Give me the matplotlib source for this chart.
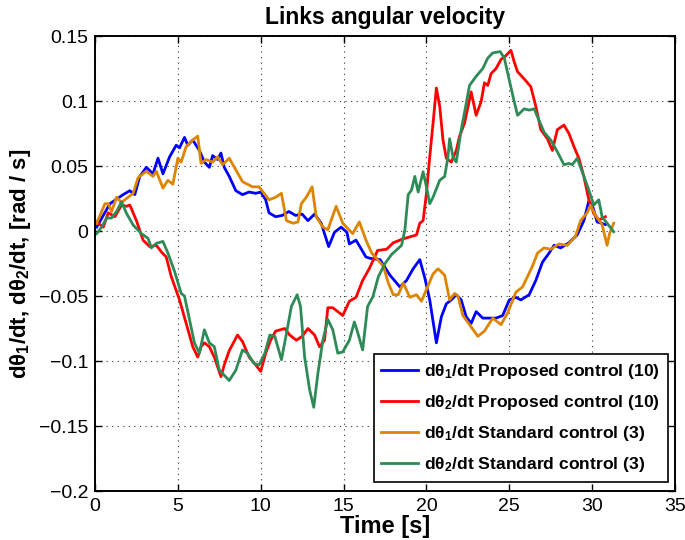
import matplotlib
matplotlib.use('Agg')
import matplotlib.pyplot as plt

plt.rcParams['font.family'] = ['Liberation Sans', 'DejaVu Sans']
plt.rcParams['mathtext.fontset'] = 'custom'
plt.rcParams['mathtext.bf'] = 'Liberation Sans:bold'
plt.rcParams['mathtext.rm'] = 'Liberation Sans:bold'
plt.rcParams['mathtext.default'] = 'bf'

# dtheta1/dt, proposed control (10)
blue_t = [0.1, 0.9, 1.7, 2.1, 2.4, 2.7, 3.1, 3.5, 3.8, 4.1, 4.5, 4.9, 5.1, 5.4, 5.6,
          5.9, 6.3, 6.6, 6.9, 7.1, 7.4, 7.6, 7.8, 8.1, 8.5, 8.9, 9.3, 9.7, 10.0, 10.3,
          10.5, 10.9, 11.3, 11.7, 12.1, 12.5, 12.85, 13.25, 13.65, 14.1, 14.45, 14.85,
          15.2, 15.35, 15.75, 16.35, 16.6, 17.2, 17.8, 18.4, 18.8, 19.2, 19.6, 19.9,
          20.2, 20.6, 20.9, 21.2, 21.5, 21.8, 22.1, 22.4, 22.7, 23.0, 23.4, 23.8, 24.2,
          24.6, 25.0, 25.4, 25.7, 26.2, 26.6, 27.0, 27.4, 27.7, 28.1, 28.6, 29.1, 29.5,
          29.8, 30.05, 30.3, 30.8]
blue_v = [0.003, 0.021, 0.028, 0.031, 0.028, 0.042, 0.049, 0.044, 0.056, 0.044, 0.057,
          0.066, 0.064, 0.072, 0.066, 0.070, 0.062, 0.053, 0.049, 0.058, 0.055, 0.060,
          0.049, 0.042, 0.031, 0.028, 0.030, 0.029, 0.030, 0.024, 0.014, 0.011, 0.012,
          0.015, 0.012, 0.013, 0.008, 0.013, 0.006, -0.012, -0.001, 0.003, -0.001, -0.010,
          -0.007, -0.020, -0.021, -0.022, -0.034, -0.043, -0.038, -0.029, -0.022, -0.036,
          -0.053, -0.086, -0.066, -0.056, -0.053, -0.049, -0.053, -0.066, -0.071, -0.062,
          -0.067, -0.067, -0.067, -0.065, -0.053, -0.051, -0.053, -0.049, -0.038, -0.024,
          -0.017, -0.011, -0.013, -0.009, -0.003, 0.008, 0.023, 0.018, 0.007, 0.005]

# dtheta2/dt, proposed control (10)
red_t = [0.1, 0.5, 0.8, 1.2, 1.6, 1.9, 2.1, 2.5, 2.9, 3.3, 3.7, 4.0, 4.3, 4.6, 5.1, 5.5,
         5.9, 6.2, 6.4, 6.6, 6.9, 7.2, 7.6, 7.8, 8.1, 8.6, 8.9, 9.3, 9.7, 10.0, 10.3, 10.6,
         10.9, 11.45, 11.75, 12.15, 12.5, 12.85, 13.25, 13.55, 13.85, 14.05, 14.35, 14.95,
         15.35, 15.75, 16.15, 16.55, 17.05, 17.6, 18.0, 18.6, 19.4, 19.6, 19.8, 20.0, 20.2,
         20.4, 20.6, 20.8, 21.0, 21.2, 21.5, 21.8, 22.0, 22.3, 22.7, 23.0, 23.3, 23.5, 23.7,
         23.9, 24.2, 24.5, 24.8, 25.1, 25.3, 25.5, 25.9, 26.3, 26.6, 26.9, 27.3, 27.6, 27.9,
         28.3, 28.6, 28.9, 29.2, 29.5, 29.8, 30.1, 30.4, 30.8]
red_v = [0.007, 0.003, 0.014, 0.011, 0.020, 0.019, 0.020, 0.008, -0.007, -0.012, -0.011,
         -0.016, -0.020, -0.035, -0.053, -0.071, -0.089, -0.097, -0.089, -0.086, -0.089,
         -0.097, -0.112, -0.103, -0.092, -0.080, -0.085, -0.097, -0.103, -0.108, -0.094,
         -0.084, -0.077, -0.075, -0.080, -0.084, -0.081, -0.075, -0.080, -0.089, -0.084,
         -0.059, -0.059, -0.065, -0.054, -0.051, -0.038, -0.029, -0.015, -0.014, -0.009,
         -0.006, -0.003, 0.006, 0.008, 0.029, 0.057, 0.083, 0.110, 0.096, 0.070, 0.056,
         0.053, 0.062, 0.073, 0.083, 0.107, 0.089, 0.0995, 0.114, 0.112, 0.121, 0.125,
         0.132, 0.135, 0.139, 0.130, 0.1225, 0.117, 0.111, 0.096, 0.078, 0.071, 0.062,
         0.078, 0.0815, 0.075, 0.065, 0.056, 0.042, 0.024, 0.0136, 0.0085, 0.011]

# dtheta1/dt, standard control (3)
orange_t = [0.1, 0.6, 0.8, 1.0, 1.3, 1.6, 1.9, 2.3, 2.6, 3.1, 3.5, 3.7, 4.1, 4.4, 4.7,
            5.0, 5.2, 5.5, 5.9, 6.2, 6.4, 6.7, 7.1, 7.4, 7.7, 8.1, 8.5, 8.9, 9.5, 9.9,
            10.2, 10.5, 10.9, 11.25, 11.55, 11.95, 12.25, 12.45, 12.75, 13.1, 13.35, 13.75,
            14.05, 14.55, 14.95, 15.55, 15.95, 16.35, 16.7, 17.4, 17.7, 18.0, 18.3, 18.6,
            19.0, 19.4, 19.7, 20.0, 20.4, 20.7, 21.1, 21.4, 21.7, 21.9, 22.2, 22.6, 23.1,
            23.5, 24.0, 24.5, 24.9, 25.4, 25.8, 26.4, 26.7, 27.1, 27.5, 28.0, 28.5, 29.0,
            29.3, 29.7, 29.9, 30.2, 30.6, 30.9, 31.05, 31.3]
orange_v = [0.006, 0.021, 0.021, 0.015, 0.026, 0.022, 0.025, 0.029, 0.041, 0.046, 0.042,
            0.046, 0.033, 0.039, 0.036, 0.056, 0.053, 0.065, 0.070, 0.073, 0.052, 0.055,
            0.053, 0.057, 0.051, 0.056, 0.047, 0.038, 0.034, 0.034, 0.029, 0.024, 0.026,
            0.029, 0.008, 0.006, 0.007, 0.021, 0.026, 0.034, 0.011, 0.003, 0.001, 0.019,
            0.006, -0.002, 0.007, -0.007, -0.017, -0.027, -0.040, -0.049, -0.049, -0.040,
            -0.051, -0.049, -0.054, -0.045, -0.033, -0.029, -0.034, -0.053, -0.048, -0.050,
            -0.065, -0.072, -0.081, -0.077, -0.067, -0.072, -0.063, -0.047, -0.043, -0.027,
            -0.017, -0.013, -0.014, -0.010, -0.011, -0.004, 0.008, 0.014, 0.020, 0.012,
            0.005, -0.011, -0.002, 0.006]

# dtheta2/dt, standard control (3)
green_t = [0.1, 0.4, 0.7, 1.0, 1.3, 1.6, 1.9, 2.3, 2.8, 3.2, 3.4, 3.7, 4.1, 4.4, 4.8,
           5.2, 5.4, 5.7, 6.0, 6.3, 6.6, 6.9, 7.2, 7.5, 8.1, 8.5, 8.9, 9.2, 9.6, 9.9,
           10.25, 10.55, 10.85, 11.25, 11.55, 11.85, 12.2, 12.4, 12.65, 12.95, 13.2, 13.45,
           13.75, 14.05, 14.35, 14.65, 14.95, 15.35, 15.65, 15.85, 16.15, 16.45, 16.77,
           17.1, 17.5, 17.9, 18.5, 18.7, 18.9, 19.1, 19.3, 19.5, 19.8, 20.0, 20.2, 20.4,
           20.8, 21.1, 21.3, 21.4, 21.6, 21.8, 22.1, 22.4, 22.6, 23.0, 23.4, 23.7, 24.0,
           24.45, 24.7, 25.0, 25.3, 25.5, 25.9, 26.2, 26.5, 26.8, 27.1, 27.5, 27.9, 28.3,
           28.6, 28.8, 29.1, 29.4, 29.8, 30.1, 30.4, 30.6, 30.9, 31.3]
green_v = [-0.002, 0.003, 0.010, 0.010, 0.015, 0.0225, 0.0136, 0.0046, -0.002, -0.0056,
           -0.013, -0.0095, -0.008, -0.017, -0.031, -0.048, -0.050, -0.068, -0.086, -0.094,
           -0.076, -0.086, -0.089, -0.107, -0.115, -0.107, -0.0915, -0.094, -0.102, -0.103,
           -0.094, -0.080, -0.081, -0.099, -0.079, -0.058, -0.049, -0.058, -0.097, -0.122,
           -0.1356, -0.1095, -0.084, -0.068, -0.076, -0.094, -0.093, -0.084, -0.070, -0.078,
           -0.0915, -0.058, -0.0505, -0.035, -0.025, -0.018, -0.011, 0.001, 0.028, 0.0315,
           0.042, 0.030, 0.0456, 0.034, 0.021, 0.026, 0.039, 0.042, 0.057, 0.071, 0.057,
           0.053, 0.078, 0.098, 0.112, 0.119, 0.125, 0.133, 0.137, 0.138, 0.133, 0.116,
           0.0995, 0.089, 0.094, 0.093, 0.094, 0.085, 0.076, 0.070, 0.061, 0.051, 0.052,
           0.051, 0.056, 0.0456, 0.0315, 0.020, 0.024, 0.011, 0.006, -0.0005]

labels = ['dθ$_1$/dt Proposed control (10)',
          'dθ$_2$/dt Proposed control (10)',
          'dθ$_1$/dt Standard control (3)',
          'dθ$_2$/dt Standard control (3)']
colors = ['#0000FF', '#FF0000', '#DD8400', '#2E8B57']

fig = plt.figure(figsize=(6.85, 5.4), dpi=100)
ax = fig.add_axes([0.1387, 0.0907, 0.8467, 0.8426])

series = [(blue_t, blue_v), (red_t, red_v), (orange_t, orange_v), (green_t, green_v)]
for (t, v), c, lab in zip(series, colors, labels):
    ax.plot(t, v, color=c, lw=2.0, label=lab)

ax.set_xlim(0, 35)
ax.set_ylim(-0.2, 0.15)
ax.set_xticks(range(0, 36, 5))
ax.set_yticks([-0.2, -0.15, -0.1, -0.05, 0, 0.05, 0.1, 0.15])
ax.set_yticklabels(['\u22120.2', '\u22120.15', '\u22120.1', '\u22120.05', '0', '0.05', '0.1', '0.15'])
ax.tick_params(direction='in', top=True, right=True, labelsize=14, length=5, width=1, pad=5)
ax.grid(True, color='#333333', linestyle=(0, (1, 4)), linewidth=0.8)
for s in ax.spines.values():
    s.set_linewidth(1.4)

ax.set_title('Links angular velocity', fontsize=16.5, fontweight='bold', pad=9)
ax.set_xlabel('Time [s]', fontsize=17, fontweight='bold', labelpad=0)
ax.set_ylabel('dθ$_1$/dt, dθ$_2$/dt, [rad / s]', fontsize=16, fontweight='bold', labelpad=4)

leg = ax.legend(loc='lower right', bbox_to_anchor=(0.988, 0.02), borderaxespad=0,
                prop={'size': 12.6, 'weight': 'bold'}, fancybox=False, framealpha=1,
                edgecolor='black', handlelength=2.1, handletextpad=0.35, labelspacing=0.68,
                borderpad=0.45)
leg.get_frame().set_linewidth(1.2)

fig.savefig('out.png', dpi=100)
